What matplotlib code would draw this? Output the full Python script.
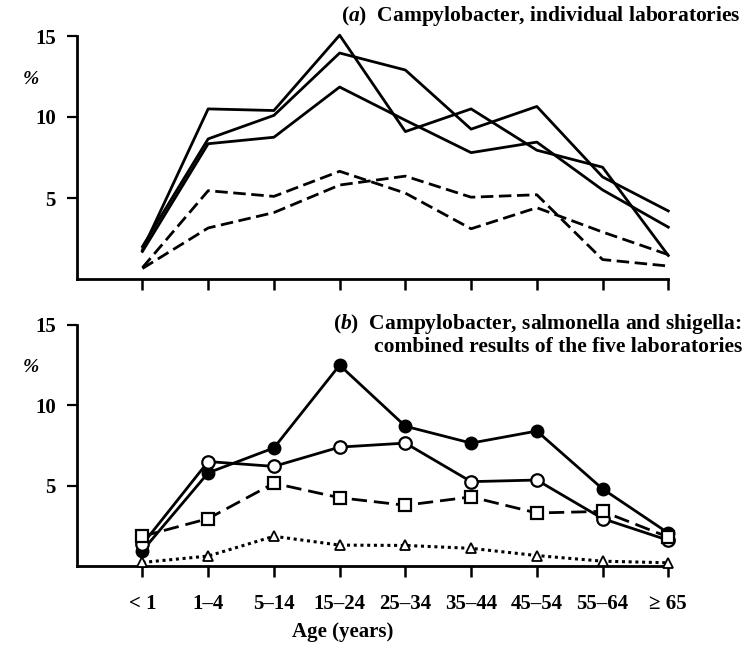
import matplotlib
matplotlib.use('Agg')
import matplotlib.pyplot as plt
import numpy as np

plt.rcParams['font.family'] = ['Liberation Serif', 'DejaVu Serif']
plt.rcParams['font.weight'] = 'bold'
plt.rcParams['mathtext.fontset'] = 'custom'
plt.rcParams['mathtext.rm'] = 'Liberation Serif:bold'
plt.rcParams['mathtext.it'] = 'Liberation Serif:italic:bold'

# ---- data ----
ages = ['< 1', '1–4', '5–14', '15–24', '25–34', '35–44', '45–54', '55–64', '≥ 65']

# (a) Campylobacter, individual laboratories (%)
lab_solid_1 = [1.8, 10.5, 10.4, 15.05, 9.1, 10.5, 7.95, 6.9, 1.45]
lab_solid_2 = [2.0, 8.65, 10.1, 13.95, 12.9, 9.25, 10.65, 6.3, 4.2]
lab_solid_3 = [1.7, 8.35, 8.75, 11.85, 9.8, 7.8, 8.45, 5.5, 3.2]
lab_dashed_1 = [0.65, 3.15, 4.1, 5.8, 6.35, 5.05, 5.2, 1.2, 0.8]
lab_dashed_2 = [0.7, 5.45, 5.1, 6.65, 5.3, 3.1, 4.4, 2.9, 1.5]

# (b) combined results of the five laboratories (%)
filled_circles = [0.95, 5.8, 7.35, 12.5, 8.7, 7.65, 8.4, 4.8, 2.05]
open_circles = [1.35, 6.5, 6.2, 7.4, 7.65, 5.25, 5.35, 2.95, 1.6]
open_squares = [1.85, 2.95, 5.15, 4.25, 3.78, 4.3, 3.3, 3.4, 1.8]
open_triangles = [0.22, 0.62, 1.85, 1.3, 1.28, 1.1, 0.65, 0.3, 0.2]

yticks = [5, 10, 15]

W, H = 746, 645
fig = plt.figure(figsize=(W / 100, H / 100), dpi=100)

x = np.arange(len(ages))
LW = 2.0
dash_a = (0, (4.5, 2.0))

def style_axes(ax, show_labels):
    ax.set_xlim(-1, 8)
    ax.set_ylim(0, 15)
    for s in ('top', 'right'):
        ax.spines[s].set_visible(False)
    for s in ('left', 'bottom'):
        ax.spines[s].set_linewidth(2.0)
    ax.set_xticks(x)
    ax.set_yticks(yticks)
    ax.set_yticklabels([str(v) for v in yticks])
    ax.tick_params(axis='x', direction='out', length=8, width=1.8, pad=12,
                   labelsize=15, labelbottom=show_labels)
    ax.tick_params(axis='y', direction='out', length=7, width=1.6, pad=8,
                   labelsize=15)
    if show_labels:
        ax.set_xticklabels(ages)

ax1 = fig.add_axes([76.7 / W, 1 - 279 / H, (668.3 - 76.7) / W, (279 - 36) / H])
for ys in (lab_solid_1, lab_solid_2, lab_solid_3):
    ax1.plot(x, ys, color='black', lw=LW, clip_on=False)
for ys in (lab_dashed_1, lab_dashed_2):
    ax1.plot(x, ys, color='black', lw=LW, ls=dash_a, clip_on=False)
style_axes(ax1, False)

ax2 = fig.add_axes([76.7 / W, 1 - 566 / H, (668.3 - 76.7) / W, (566 - 325) / H])
ax2.plot(x, filled_circles, color='black', lw=LW, marker='o', ms=9,
         mfc='black', mec='black', clip_on=False, zorder=3)
ax2.plot(x, open_circles, color='black', lw=LW, marker='o', ms=9,
         mfc='white', mec='black', mew=1.6, clip_on=False, zorder=3)
ax2.plot(x, open_squares, color='black', lw=LW, ls=(0, (5.5, 2.5)), marker='s',
         ms=9, mfc='white', mec='black', mew=1.6, clip_on=False, zorder=3)
ax2.plot(x, open_triangles, color='black', lw=2.2, ls=(0, (1, 1.2)), marker='^',
         ms=7, mfc='white', mec='black', mew=1.3, clip_on=False, zorder=3)
style_axes(ax2, True)

# texts
fig.text(741 / W, 1 - 16 / H, r'($\it{a}$)  Campylobacter, individual laboratories',
         ha='right', va='center', fontsize=15.5)
fig.text(742 / W, 1 - 324 / H, r'($\it{b}$)  Campylobacter, salmonella and shigella:',
         ha='right', va='center', fontsize=15.5)
fig.text(742 / W, 1 - 347 / H, 'combined results of the five laboratories',
         ha='right', va='center', fontsize=15.5)
fig.text(31 / W, 1 - 80 / H, '%', ha='center', va='center', fontsize=14,
         style='italic')
fig.text(31 / W, 1 - 368 / H, '%', ha='center', va='center', fontsize=14,
         style='italic')
fig.text(343 / W, 1 - 632 / H, 'Age (years)', ha='center', va='center', fontsize=15)

fig.savefig('out.png', dpi=100)
